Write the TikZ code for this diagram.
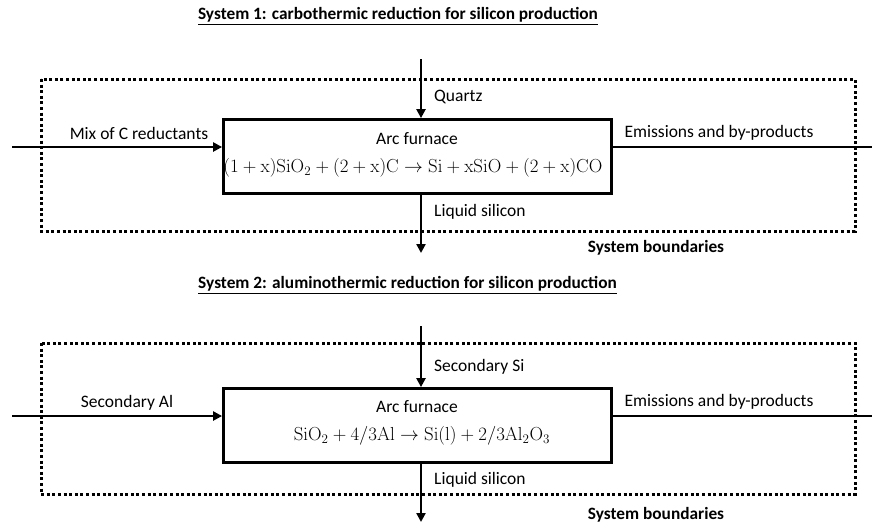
\documentclass[tikz,border=0pt]{standalone}
\usepackage{graphicx}
\usepackage[no-math]{fontspec}
\setmainfont{Carlito}
\usetikzlibrary{arrows.meta}
\newcommand{\eqbox}[1]{\scalebox{1.09}{$#1$}}
\begin{document}
\begin{tikzpicture}[x=1pt,y=-1pt,
  furnace/.style={draw,line width=2.8pt,minimum width=388pt,minimum height=74pt,inner sep=0pt},
  flow/.style={line width=2.8pt,-{Triangle[length=9pt,width=9pt]}},
  outflow/.style={line width=2.4pt},
  boundary/.style={line width=3pt,dash pattern=on 3pt off 2.6pt},
  lbl/.style={font=\fontsize{17.5}{20}\selectfont,inner sep=0pt},
  lbll/.style={lbl,anchor=west},
  ttl/.style={font=\fontsize{17.3}{20}\selectfont\bfseries,inner sep=0pt},
  eqn/.style={font=\fontsize{17.28}{20}\selectfont,inner sep=0pt}]
\useasboundingbox (0,0) rectangle (872,523);

% ---------- System 1 ----------
\node[ttl] (t1) at (398,16) {\underline{System 1: carbothermic reduction for silicon production}};
\draw[boundary] (41,79) rectangle (855,231);
\node[furnace] (f1) at (417.5,156.5) {};
\node[lbl] (a1) at (417,139) {Arc furnace};
\node[eqn] (e1) at (413,168) {\eqbox{(1+\mathrm{x})\mathrm{SiO_2}+(2+\mathrm{x})\mathrm{C}\rightarrow\mathrm{Si}+\mathrm{xSiO}+(2+\mathrm{x})\mathrm{CO}}};
\coordinate (q1) at (421,59);
\coordinate (in1) at (12,147);
\coordinate (out1) at (872,147);
\coordinate (ls1) at (421,253);
\draw[flow] (q1) -- (q1 |- f1.north);
\draw[flow] (in1) -- (in1 -| f1.west);
\draw[outflow] (out1 -| f1.east) -- (out1);
\draw[flow] (ls1 |- f1.south) -- (ls1);
\node[lbl] (m1) at (139,133) {Mix of C reductants};
\node[lbll] (qz) at (434,97) {Quartz};
\node[lbl] (em1) at (719,133) {Emissions and by-products};
\node[lbll] (lq1) at (434,212) {Liquid silicon};
\node[ttl] (sb1) at (656,248) {System boundaries};

% ---------- System 2 ----------
\node[ttl] (t2) at (407.5,285) {\underline{System 2: aluminothermic reduction for silicon production}};
\draw[boundary] (41,343) rectangle (855,494);
\node[furnace] (f2) at (417.5,425.5) {};
\node[lbl] (a2) at (417,407) {Arc furnace};
\node[eqn] (e2) at (422,436) {\eqbox{\mathrm{SiO_2}+4/3\mathrm{Al}\rightarrow\mathrm{Si(l)}+2/3\mathrm{Al_2O_3}}};
\coordinate (q2) at (421,326);
\coordinate (in2) at (12,416);
\coordinate (out2) at (872,416);
\coordinate (ls2) at (421,522);
\draw[flow] (q2) -- (q2 |- f2.north);
\draw[flow] (in2) -- (in2 -| f2.west);
\draw[outflow] (out2 -| f2.east) -- (out2);
\draw[flow] (ls2 |- f2.south) -- (ls2);
\node[lbl] (m2) at (127,403) {Secondary Al};
\node[lbll] (si2) at (434,367) {Secondary Si};
\node[lbl] (em2) at (719,402) {Emissions and by-products};
\node[lbll] (lq2) at (434,480) {Liquid silicon};
\node[ttl] (sb2) at (656,515) {System boundaries};
\end{tikzpicture}
\end{document}
